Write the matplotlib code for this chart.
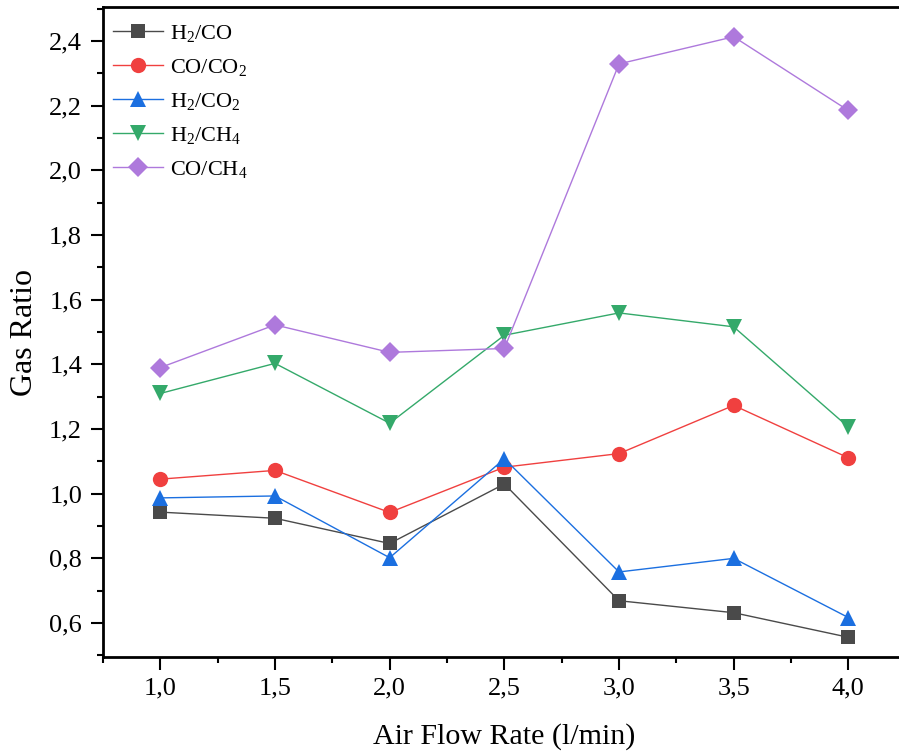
import matplotlib
matplotlib.use("Agg")
import matplotlib.pyplot as plt
from matplotlib.ticker import MultipleLocator, FuncFormatter

plt.rcParams['font.family'] = ['Liberation Serif', 'DejaVu Serif']
plt.rcParams['mathtext.fontset'] = 'custom'
plt.rcParams['mathtext.rm'] = 'Liberation Serif'
plt.rcParams['mathtext.it'] = 'Liberation Serif:italic'

air_flow = [1.0, 1.5, 2.0, 2.5, 3.0, 3.5, 4.0]
h2_co = [0.943, 0.924, 0.846, 1.030, 0.669, 0.632, 0.556]
co_co2 = [1.045, 1.072, 0.942, 1.082, 1.124, 1.273, 1.111]
h2_co2 = [0.987, 0.993, 0.802, 1.108, 0.758, 0.800, 0.617]
h2_ch4 = [1.310, 1.403, 1.218, 1.490, 1.559, 1.516, 1.206]
co_ch4 = [1.390, 1.522, 1.437, 1.449, 2.329, 2.413, 2.185]

labels = [r'H$_\mathregular{2}$/CO', r'CO/CO$_\mathregular{2}$', r'H$_\mathregular{2}$/CO$_\mathregular{2}$',
          r'H$_\mathregular{2}$/CH$_\mathregular{4}$', r'CO/CH$_\mathregular{4}$']
series = [h2_co, co_co2, h2_co2, h2_ch4, co_ch4]
colors = ['#4a4a4a', '#f0403f', '#1b6fe0', '#34a96a', '#ae79dc']
markers = ['s', 'o', '^', 'v', 'D']
msizes = [10, 11, 12, 12, 10]

fig = plt.figure(figsize=(8.99, 7.56), dpi=100)
ax = fig.add_axes([103/899, (756-657)/756, (905-103)/899, 650/756])

for y, lab, c, m, ms in zip(series, labels, colors, markers, msizes):
    ax.plot(air_flow, y, color=c, marker=m, markersize=ms, linewidth=1.0,
            markeredgewidth=0, label=lab)

ax.set_xlim(0.75, 4.247)
ax.set_ylim(0.495, 2.505)
ax.xaxis.set_major_locator(MultipleLocator(0.5))
ax.xaxis.set_minor_locator(MultipleLocator(0.25))
ax.yaxis.set_major_locator(MultipleLocator(0.2))
ax.yaxis.set_minor_locator(MultipleLocator(0.1))
fmt = FuncFormatter(lambda v, p: f'{v:.1f}'.replace('.', ','))
ax.xaxis.set_major_formatter(fmt)
ax.yaxis.set_major_formatter(fmt)

ax.tick_params(which='major', direction='out', length=9, width=1.5, labelsize=19, pad=6)
ax.tick_params(which='minor', direction='out', length=4.5, width=1.5)
ax.tick_params(top=False, right=False)
for s in ax.spines.values():
    s.set_linewidth(2)

ax.set_xlabel('Air Flow Rate (l/min)', fontsize=21.6, labelpad=17)
ax.set_ylabel('Gas Ratio', fontsize=23, labelpad=7)

leg = ax.legend(loc='upper left', frameon=False, fontsize=16, handlelength=2.25,
                labelspacing=0.58, borderaxespad=0.0, borderpad=0.0, handletextpad=0.32,
                bbox_to_anchor=(10/802, 1 - 16/650))

fig.savefig('out.png', dpi=100)
